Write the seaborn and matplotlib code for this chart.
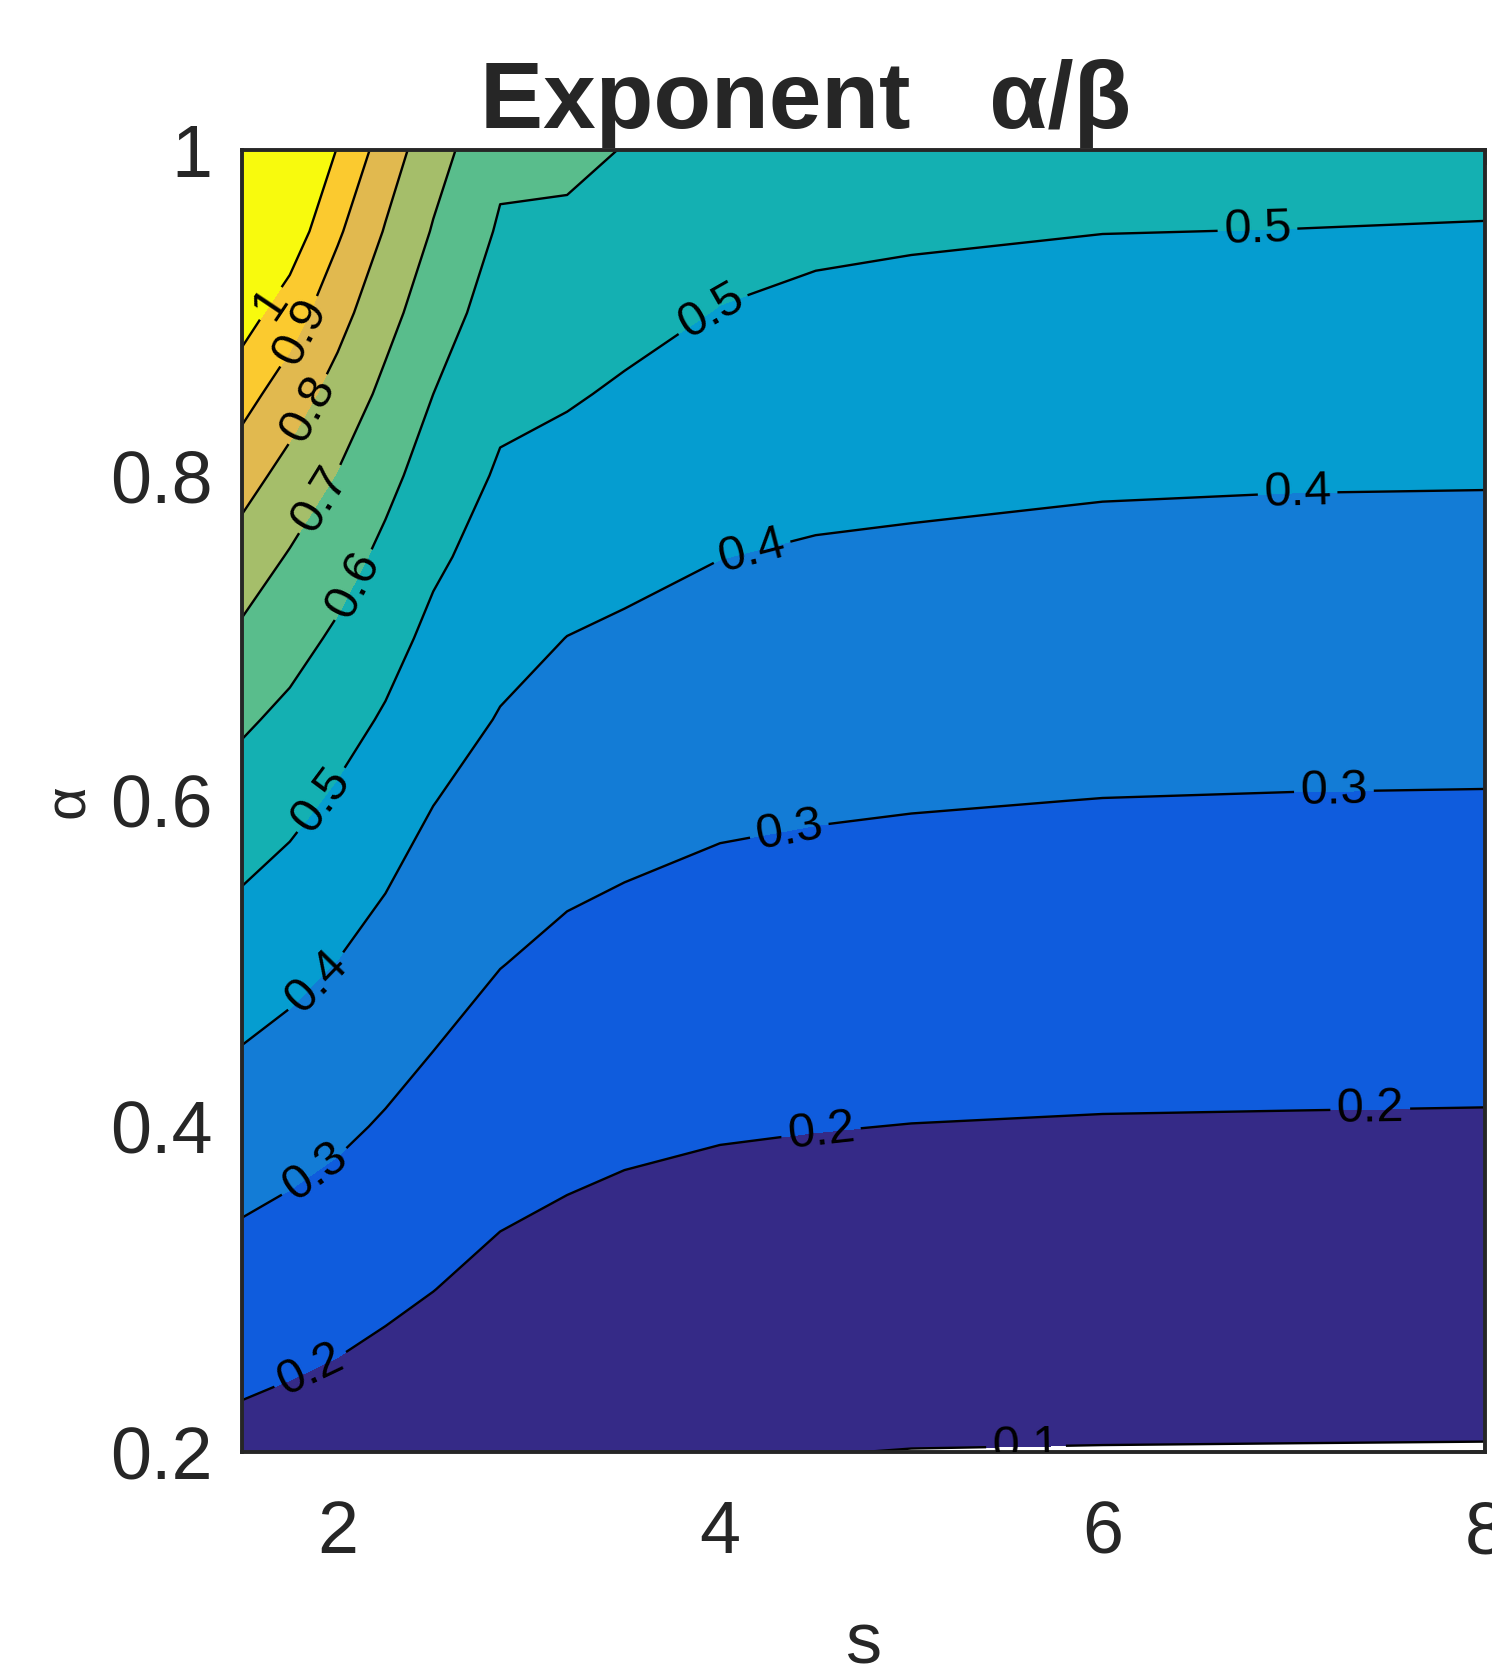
import matplotlib
matplotlib.use('Agg')
import numpy as np
import matplotlib.pyplot as plt
import matplotlib.ticker as mticker
import seaborn as sns

# --- data (grid of s x alpha) ---
S_VALUES = [1.5, 1.75, 2.0, 2.25, 2.5, 2.85, 3.2, 3.5, 4.0, 4.5, 5.0, 6.0, 7.0, 8.0]
ALPHA_VALUES = [0.2, 0.3, 0.4, 0.5, 0.6, 0.65, 0.7, 0.75, 0.8, 0.85, 0.9, 0.95, 1.0]

# one list per s column, alpha from 0.2 up to 1.0
EXPONENT_BY_S = [
    [0.172, 0.260, 0.351, 0.449, 0.556, 0.614, 0.681, 0.756, 0.840, 0.937, 1.046, 1.150, 1.250],
    [0.163, 0.247, 0.334, 0.425, 0.525, 0.578, 0.634, 0.692, 0.766, 0.849, 0.948, 1.060, 1.150],
    [0.153, 0.234, 0.315, 0.398, 0.487, 0.535, 0.585, 0.639, 0.696, 0.763, 0.835, 0.914, 0.995],
    [0.142, 0.217, 0.292, 0.365, 0.446, 0.490, 0.534, 0.578, 0.626, 0.677, 0.733, 0.793, 0.853],
    [0.133, 0.201, 0.269, 0.336, 0.402, 0.440, 0.477, 0.517, 0.558, 0.600, 0.646, 0.693, 0.739],
    [0.116, 0.178, 0.240, 0.302, 0.364, 0.395, 0.426, 0.458, 0.489, 0.521, 0.555, 0.589, 0.622],
    [0.110, 0.167, 0.224, 0.281, 0.340, 0.370, 0.399, 0.435, 0.471, 0.508, 0.545, 0.583, 0.621],
    [0.103, 0.159, 0.215, 0.271, 0.329, 0.358, 0.388, 0.421, 0.455, 0.490, 0.525, 0.561, 0.597],
    [0.103, 0.153, 0.206, 0.260, 0.314, 0.343, 0.372, 0.401, 0.433, 0.465, 0.497, 0.529, 0.561],
    [0.101, 0.149, 0.202, 0.255, 0.308, 0.336, 0.364, 0.392, 0.422, 0.453, 0.484, 0.515, 0.546],
    [0.099, 0.146, 0.199, 0.252, 0.304, 0.332, 0.360, 0.388, 0.417, 0.448, 0.478, 0.509, 0.539],
    [0.098, 0.145, 0.196, 0.248, 0.299, 0.326, 0.354, 0.381, 0.409, 0.440, 0.470, 0.501, 0.532],
    [0.0975, 0.144, 0.195, 0.246, 0.297, 0.324, 0.351, 0.378, 0.406, 0.437, 0.468, 0.499, 0.530],
    [0.097, 0.144, 0.194, 0.245, 0.296, 0.323, 0.350, 0.377, 0.405, 0.435, 0.466, 0.496, 0.527],
]

CONTOUR_LEVELS = [0.1, 0.2, 0.3, 0.4, 0.5, 0.6, 0.7, 0.8, 0.9, 1.0]
BAND_COLORS = ['#352A87', '#0F5CDD', '#137CD6', '#059DD0', '#14B0B2',
               '#59BD8C', '#A5BE6A', '#E1B94F', '#FBCA2F', '#F8FA0D']

X_TICKS = [2, 4, 6, 8]
Y_TICKS = [0.2, 0.4, 0.6, 0.8, 1.0]

# where the inline labels sit (s, alpha)
LABEL_SPOTS = [(1.66, 0.905), (1.79, 0.889), (1.84, 0.841), (1.90, 0.786),
               (2.08, 0.733), (1.91, 0.601), (1.88, 0.490), (1.88, 0.372),
               (1.86, 0.250), (3.96, 0.900), (4.16, 0.756), (4.36, 0.583),
               (4.53, 0.394), (5.60, 0.203), (6.81, 0.952), (7.02, 0.790),
               (7.21, 0.606), (7.40, 0.410)]

sns.set_theme(style='white')
plt.rcParams['font.family'] = ['Liberation Sans', 'DejaVu Sans']

fig = plt.figure(figsize=(14.92, 16.72), dpi=100)
ax = fig.add_axes([242 / 1492, 1 - 1452 / 1672, 1243 / 1492, 1302 / 1672])

z = np.array(EXPONENT_BY_S).T
fill_levels = CONTOUR_LEVELS + [z.max() + 0.05]
ax.contourf(S_VALUES, ALPHA_VALUES, z, levels=fill_levels,
            colors=sns.color_palette(BAND_COLORS))
cs = ax.contour(S_VALUES, ALPHA_VALUES, z, levels=CONTOUR_LEVELS,
                colors='black', linewidths=1.7)
ax.clabel(cs, manual=LABEL_SPOTS, inline=True, fmt='%g', fontsize=35,
          inline_spacing=6)

ax.set_xlim(1.5, 8)
ax.set_ylim(0.2, 1.0)
ax.set_xticks(X_TICKS)
ax.set_yticks(Y_TICKS)
ax.yaxis.set_major_formatter(mticker.FormatStrFormatter('%g'))
ax.xaxis.set_major_formatter(mticker.FormatStrFormatter('%g'))

ax.tick_params(direction='in', length=11, width=2.6, color='#262626',
               labelcolor='#262626', labelsize=53, top=True, right=True)
ax.tick_params(axis='x', pad=34)
ax.tick_params(axis='y', pad=21)
for sp in ax.spines.values():
    sp.set_linewidth(2.8)
    sp.set_color('#262626')

ax.set_title('Exponent   α/β', fontsize=68, fontweight='bold', pad=16, x=0.453)
ax.set_xlabel('s', fontsize=52, color='#262626', labelpad=31)
ax.set_ylabel('α', fontsize=42, color='#262626', labelpad=10)

fig.savefig('out.png', dpi=100)
